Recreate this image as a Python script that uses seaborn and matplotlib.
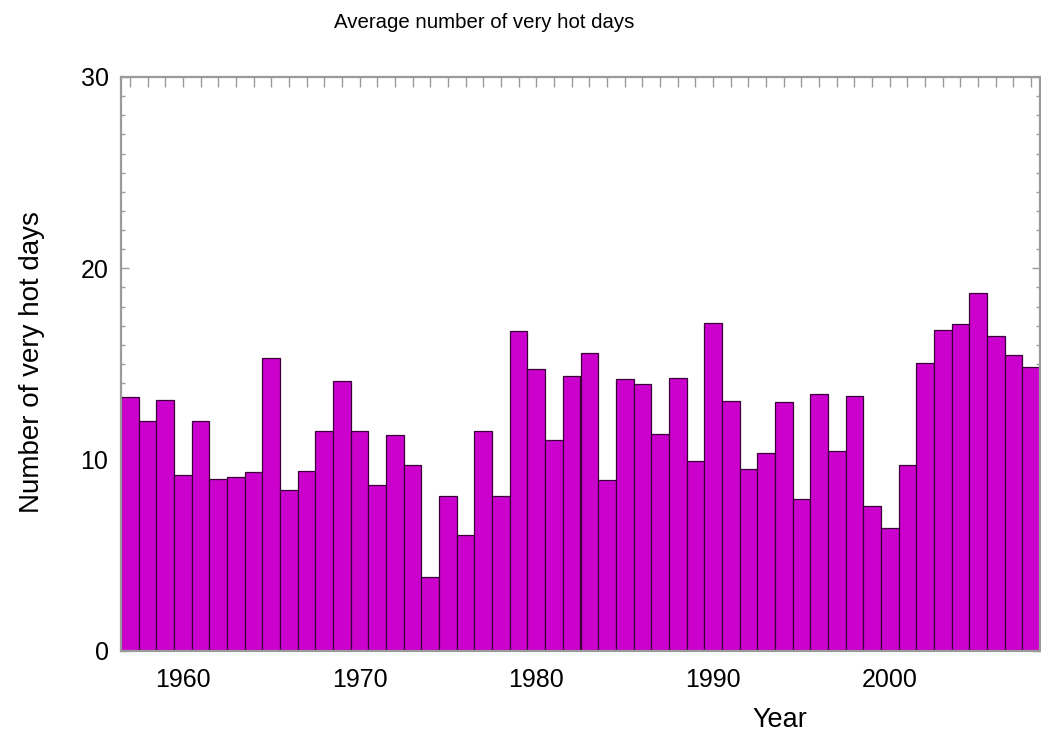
import matplotlib
matplotlib.use("Agg")
import matplotlib.pyplot as plt
from matplotlib.ticker import MultipleLocator
import numpy as np
import pandas as pd
import seaborn as sns

years = list(range(1957, 2009))
hot_days = [13.28, 12.04, 13.11, 9.20, 12.04, 8.97, 9.11, 9.35, 15.29, 8.41,
            9.42, 11.50, 14.12, 11.50, 8.66, 11.29, 9.74, 3.87, 8.08, 6.04,
            11.52, 8.08, 16.75, 14.76, 11.01, 14.36, 15.57, 8.94, 14.21, 13.98,
            11.36, 14.28, 9.93, 17.14, 13.05, 9.49, 10.37, 13.02, 7.92, 13.44,
            10.45, 13.33, 7.57, 6.42, 9.74, 15.03, 16.79, 17.07, 18.69, 16.46,
            15.46, 14.83]
x_ticks = [1960, 1970, 1980, 1990, 2000]
y_ticks = [0, 10, 20, 30]
title = "Average number of very hot days"
x_label = "Year"
y_label = "Number of very hot days"

df = pd.DataFrame({"Year": years, "Days": hot_days})

sns.set_style("ticks")
plt.rcParams["font.family"] = ["Liberation Sans", "DejaVu Sans"]
plt.rcParams["text.color"] = "black"
plt.rcParams["axes.labelcolor"] = "black"

fig = plt.figure(figsize=(10.41, 7.35), dpi=100)
fig.patch.set_facecolor("white")
ax = fig.add_axes([121 / 1041, 1 - 651 / 735, (1040 - 121) / 1041, (651 - 77) / 735])

sns.barplot(data=df, x="Year", y="Days", native_scale=True, width=1.0,
            color="#CC00CC", saturation=1, edgecolor="#3a003a", linewidth=0.9,
            ax=ax, zorder=1)

ax.set_xlim(1956.5, 2008.5)
ax.set_ylim(0, 30)
ax.set_xticks(x_ticks)
ax.set_xticklabels([str(v) for v in x_ticks])
ax.xaxis.set_minor_locator(MultipleLocator(1))
ax.set_yticks(y_ticks)
ax.set_yticklabels([str(v) for v in y_ticks])
ax.yaxis.set_minor_locator(MultipleLocator(1))

frame_col = "#9a9a9a"
for s in ax.spines.values():
    s.set_color(frame_col)
    s.set_linewidth(1.6)
    s.set_zorder(3)

ax.tick_params(axis="x", which="both", direction="in", top=True, bottom=True,
               length=7.5, width=1.0, color=frame_col, labelsize=18, pad=12,
               labelcolor="black")
ax.tick_params(axis="y", which="major", direction="in", left=True, right=True,
               length=6, width=1.0, color=frame_col, labelsize=18, pad=9,
               labelcolor="black")
ax.tick_params(axis="y", which="minor", direction="in", left=True, right=True,
               length=3, width=1.0, color=frame_col)

ax.set_xlabel(x_label, fontsize=19.5, color="black")
ax.xaxis.set_label_coords((780 - 121) / 919, (651 - 720) / 574)
ax.set_ylabel(y_label, fontsize=20, color="black")
ax.yaxis.set_label_coords((32 - 121) / 919, (651 - 362) / 574)
ax.xaxis.label.set_va("center")
ax.yaxis.label.set_va("center")

fig.text(484 / 1041, 1 - 22 / 735, title, ha="center", va="center",
         fontsize=14.7, color="black")

fig.savefig("out.png", dpi=100, facecolor="white")
